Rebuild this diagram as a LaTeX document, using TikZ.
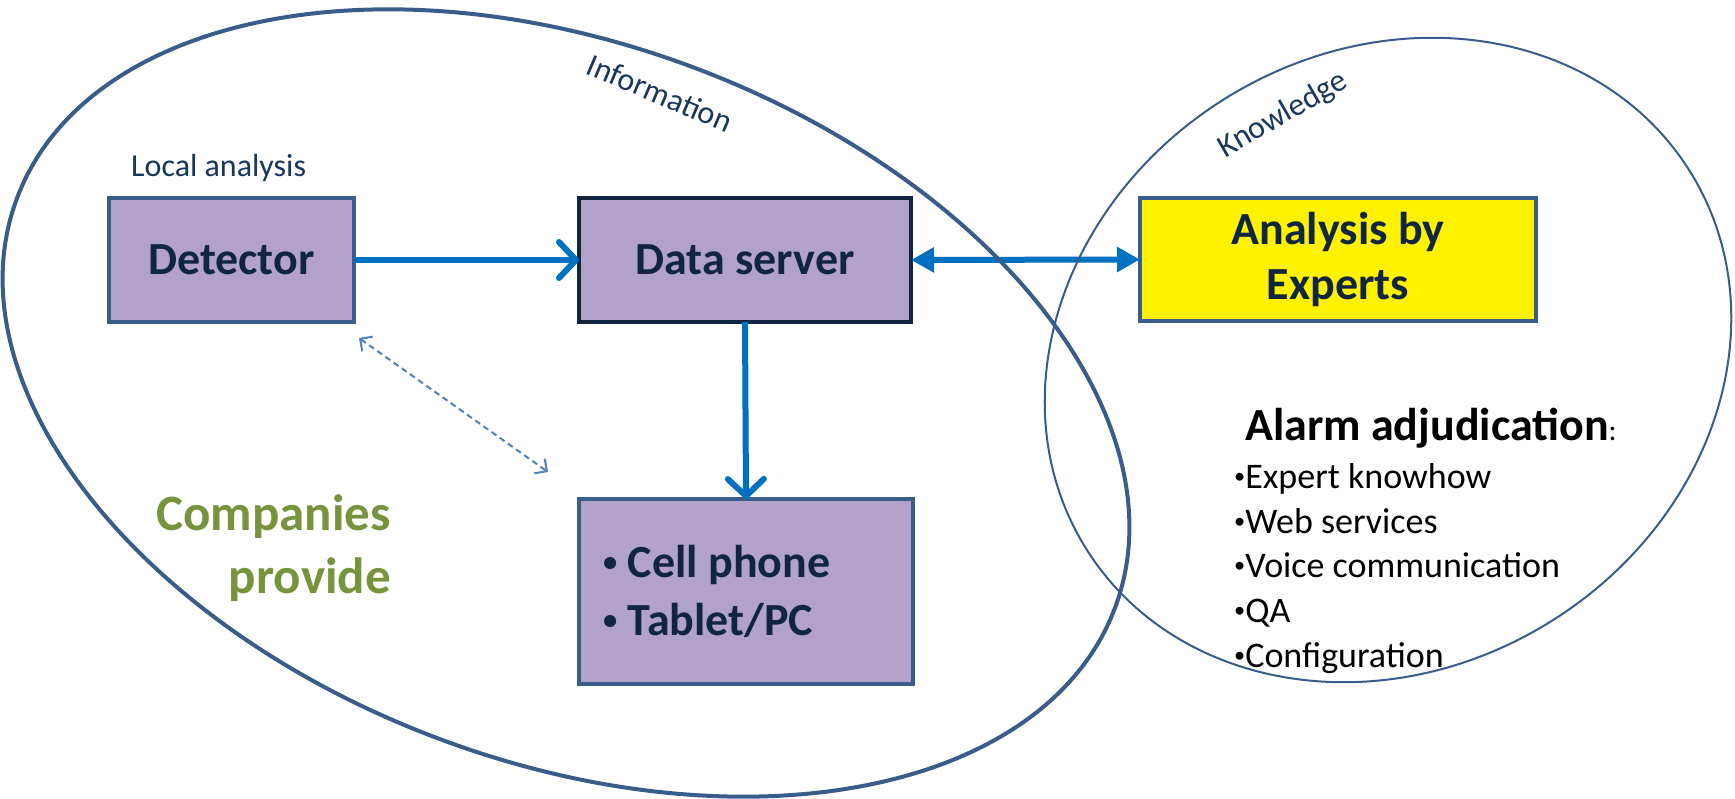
\documentclass[tikz,border=0pt]{standalone}
\usepackage{fontspec}
\setmainfont{Carlito}
\usetikzlibrary{arrows.meta}
\definecolor{rim}{HTML}{385D8A}
\definecolor{lav}{HTML}{B3A2C7}
\definecolor{navy}{HTML}{10253F}
\definecolor{labelblue}{HTML}{17375E}
\definecolor{flowblue}{HTML}{0070C0}
\definecolor{linkblue}{HTML}{4F81BD}
\definecolor{leafgreen}{HTML}{77933C}
% a small list bullet, centred on the lower-case letters
\newcommand{\smalldot}{\raisebox{0.12em}{\scalebox{0.62}{•}}}
\begin{document}
\begin{tikzpicture}[x=1pt,y=1pt,
  box/.style={draw=rim, line width=3.5pt, fill=lav, inner sep=0pt, outer sep=0pt,
    text=navy, font=\fontsize{46}{55}\selectfont\bfseries, align=center},
  boxtext/.style={inner sep=0pt, text=navy, font=\fontsize{46}{55}\selectfont\bfseries},
  tag/.style={inner sep=0pt, text=labelblue, font=\fontsize{32}{38}\selectfont},
  item/.style={inner sep=0pt, anchor=base west, text=black, font=\fontsize{36}{44}\selectfont},
  bigword/.style={inner sep=0pt, anchor=base east, text=leafgreen, font=\fontsize{51}{63}\selectfont\bfseries},
  flow/.style={draw=flowblue, line width=6pt,
    -{Straight Barb[length=17pt, width=36pt, line cap=round, line join=round]}},
  twoway/.style={draw=flowblue, line width=6pt,
    {Triangle[length=23pt, width=24pt]}-{Triangle[length=23pt, width=24pt]}},
  link/.style={draw=linkblue, line width=2pt, dash pattern=on 6pt off 4pt,
    {Straight Barb[length=9pt, width=18pt]}-{Straight Barb[length=9pt, width=18pt]}},
  zone/.style={draw=rim}
]
\fill[white] (0,0) rectangle (1735,-799);
\useasboundingbox (0,0) rectangle (1735,-799);

% boxes
\node[box, minimum width=245pt, minimum height=124pt] (det) at (231.5,-260) {Detector};
\node[box, draw=navy, line width=4pt, minimum width=332pt, minimum height=124pt] (srv) at (745,-260) {Data server};
\node[box, fill=yellow, minimum width=396pt, minimum height=123pt] (exp) at (1338,-259.5) {Analysis by\\Experts};
\node[box, minimum width=334pt, minimum height=185pt] (dev) at (746,-591.5) {};
\node[boxtext, anchor=base west] (cell) at (603,-577) {\smalldot\ Cell phone};
\node[boxtext, anchor=base west] (tab) at (603,-635) {\smalldot\ Tablet/PC};

% labels
\node[tag, anchor=base west] (local) at (131,-177) {Local analysis};
\node[tag, rotate=-23] (info) at (660,-93) {Information};
\node[tag, rotate=30] (know) at (1283,-115) {Knowledge};
\node[bigword] (comp1) at (391,-530) {Companies};
\node[bigword] (comp2) at (391,-593) {provide};

% alarm adjudication list
\node[inner sep=0pt, anchor=base west, text=black, font=\fontsize{46}{55}\selectfont\bfseries]
  (alarm) at (1245,-440) {Alarm adjudication{\mdseries\fontsize{30}{36}\selectfont :}};
\node[item] (it1) at (1234,-488) {\smalldot Expert knowhow};
\node[item] (it2) at (1234,-533) {\smalldot Web services};
\node[item] (it3) at (1234,-577) {\smalldot Voice communication};
\node[item] (it4) at (1234,-622) {\smalldot QA};
\node[item] (it5) at (1234,-667) {\smalldot Configuration};

% connectors
\draw[flow] (det.east) -- (srv.west);
\draw[flow] (srv.south) -- (dev.north);
\draw[twoway] (srv.east) -- (exp.west);
\coordinate (la) at (359,-338);
\coordinate (lb) at (548,-472);
\draw[link] (la) -- (lb);

% the two regions
\draw[zone, line width=4pt, shift={(566,-403)}, rotate=-20.4] (0,0) ellipse [x radius=586, y radius=359];
\draw[zone, line width=2pt, shift={(1388,-360)}, rotate=32] (0,0) ellipse [x radius=356, y radius=308];
\end{tikzpicture}
\end{document}
